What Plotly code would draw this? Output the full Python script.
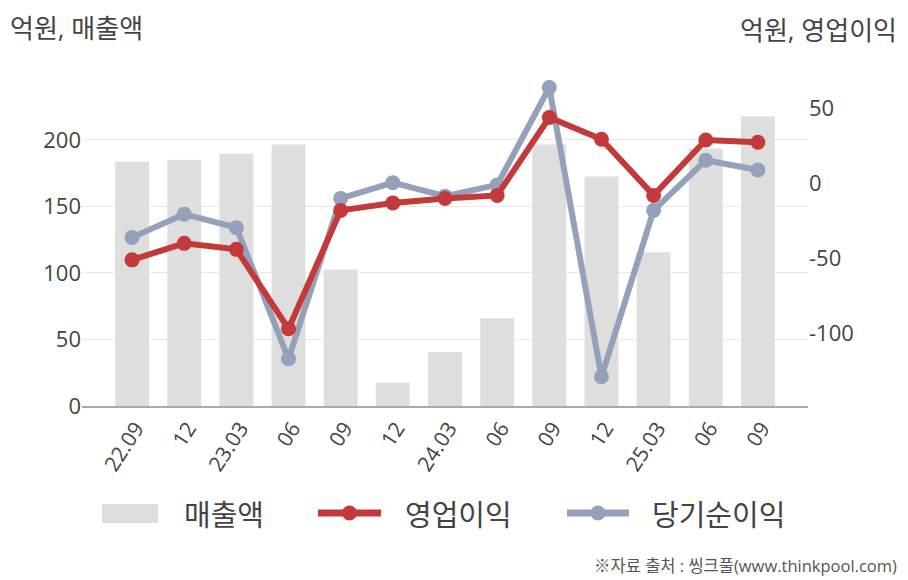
import plotly.graph_objects as go

# 분기별 실적 (억원)
periods = ["22.09", "22.12", "23.03", "23.06", "23.09", "23.12", "24.03",
           "24.06", "24.09", "24.12", "25.03", "25.06", "25.09"]
tick_labels = ["22.09", "12", "23.03", "06", "09", "12", "24.03",
               "06", "09", "12", "25.03", "06", "09"]
sales = [183.5, 185, 189.5, 196.5, 102.5, 17.5, 40.5,
         66, 196.5, 172.5, 115.5, 193.5, 217.5]
op_profit = [-51, -40, -44, -97, -18, -13, -10,
             -8, 44, 29.5, -8, 29, 27.5]
net_income = [-36, -20.5, -29.5, -117, -10, 0.5, -8.5,
              -1, 64, -129, -18, 15.5, 9]

BAR_COLOR = "#dedede"
RED = "#c43a3a"
BLUE = "#95a0bb"
FONT = "Open Sans, Noto Sans CJK KR, sans-serif"
TEXT = "#444444"

fig = go.Figure()

fig.add_trace(go.Bar(
    x=periods, y=sales, name="매출액",
    marker=dict(color=BAR_COLOR, line=dict(width=0)),
    width=0.65, yaxis="y", hoverinfo="skip",
))
fig.add_trace(go.Scatter(
    x=periods, y=net_income, name="당기순이익", yaxis="y2",
    mode="lines+markers",
    line=dict(color=BLUE, width=6),
    marker=dict(color=BLUE, size=15),
))
fig.add_trace(go.Scatter(
    x=periods, y=op_profit, name="영업이익", yaxis="y2",
    mode="lines+markers",
    line=dict(color=RED, width=6),
    marker=dict(color=RED, size=15),
))


def px(x, y):
    # 픽셀 위치 -> paper 좌표 (플롯 영역 82..808, 80..406)
    return (x - 82) / 726, (406 - y) / 326


# 범례 (직접 그림)
rx0, ry0 = px(102, 523)
rx1, ry1 = px(158, 504)
shapes = [dict(type="rect", xref="paper", yref="paper",
               x0=rx0, x1=rx1, y0=ry0, y1=ry1,
               fillcolor=BAR_COLOR, line=dict(width=0))]
for x0, x1, c in [(318, 381, RED), (567, 629, BLUE)]:
    lx0, ym = px(x0, 513)
    lx1, _ = px(x1, 513)
    shapes.append(dict(type="line", xref="paper", yref="paper",
                       x0=lx0, x1=lx1, y0=ym, y1=ym,
                       line=dict(color=c, width=7)))
    xc = (lx0 + lx1) / 2
    r = 7.5
    shapes.append(dict(type="circle", xref="paper", yref="paper",
                       x0=xc - r / 726, x1=xc + r / 726,
                       y0=ym - r / 326, y1=ym + r / 326,
                       fillcolor=c, line=dict(width=0)))

annotations = []
for label, x in [("매출액", 182), ("영업이익", 403), ("당기순이익", 650)]:
    ax, ay = px(x, 514)
    annotations.append(dict(text=label, x=ax, y=ay, xref="paper", yref="paper",
                            xanchor="left", yanchor="middle", showarrow=False,
                            font=dict(size=29, color=TEXT, family=FONT)))
ax, ay = px(8, 28)
annotations.append(dict(text="억원, 매출액", x=ax, y=ay, xref="paper", yref="paper",
                        xanchor="left", yanchor="middle", showarrow=False,
                        font=dict(size=26, color=TEXT, family=FONT)))
ax, ay = px(899, 30)
annotations.append(dict(text="억원, 영업이익", x=ax, y=ay, xref="paper", yref="paper",
                        xanchor="right", yanchor="middle", showarrow=False,
                        font=dict(size=26, color=TEXT, family=FONT)))
ax, ay = px(899, 565)
annotations.append(dict(text="※자료 출처 : 씽크풀(www.thinkpool.com)", x=ax, y=ay,
                        xref="paper", yref="paper",
                        xanchor="right", yanchor="middle", showarrow=False,
                        font=dict(size=16.5, color="#555555", family=FONT)))

fig.update_layout(
    width=908, height=580,
    margin=dict(l=82, r=100, t=80, b=174),
    paper_bgcolor="white", plot_bgcolor="white",
    showlegend=False,
    font=dict(family=FONT, color=TEXT),
    xaxis=dict(
        type="category", range=[-0.96, 12.96],
        tickvals=periods, ticktext=tick_labels,
        tickangle=-57, tickfont=dict(size=21, color=TEXT),
        ticklabelshift=4,
        showgrid=False, showline=True, linecolor="#aaaaaa", linewidth=1.5,
        ticks="", zeroline=False,
    ),
    yaxis=dict(
        range=[0, 245], tickvals=[0, 50, 100, 150, 200],
        tickfont=dict(size=22, color=TEXT),
        showgrid=True, gridcolor="#e9e9e9", gridwidth=1,
        zeroline=False, ticks="",
    ),
    yaxis2=dict(
        overlaying="y", side="right", range=[-148.5, 69],
        tickvals=[-100, -50, 0, 50], ticktext=["-100", "-50", "0", "50"],
        tickfont=dict(size=22, color=TEXT),
        showgrid=False, zeroline=False, ticks="",
    ),
    shapes=shapes,
    annotations=annotations,
)

fig.write_html("out.html", config={"displayModeBar": False},
               post_script="document.body.style.margin='0';")
